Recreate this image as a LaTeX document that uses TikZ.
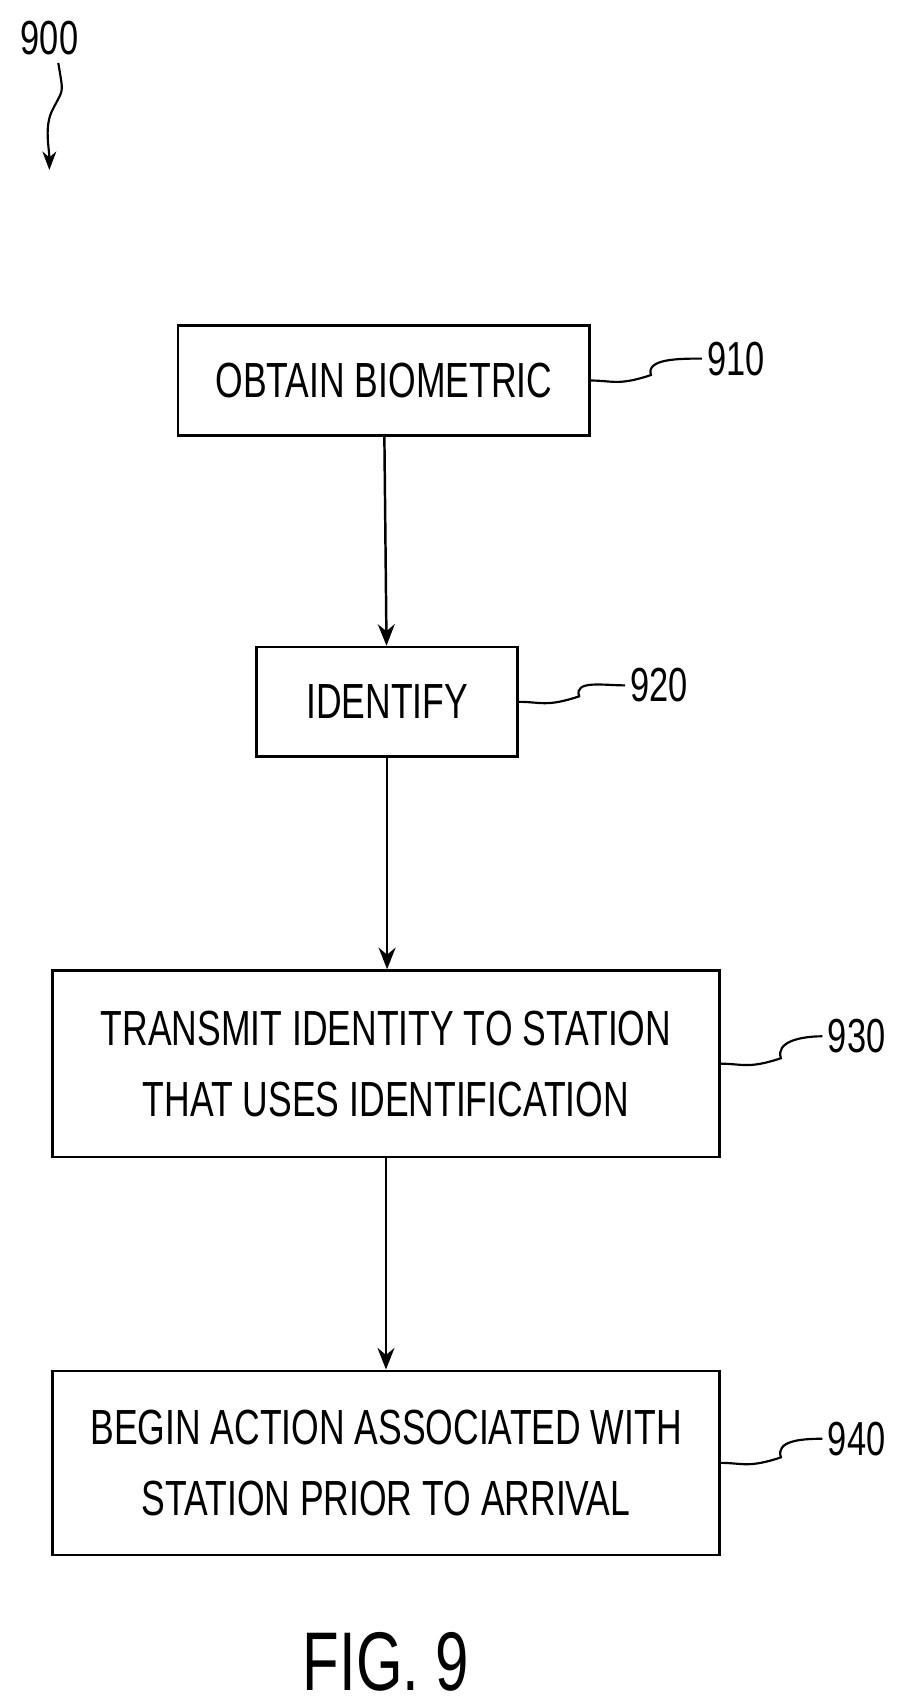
\documentclass[tikz,border=0pt]{standalone}
\usepackage{fontspec}
\setmainfont{Liberation Sans}[FakeStretch=0.72]
\usetikzlibrary{positioning,arrows.meta}
\tikzset{
  stage/.style={draw, line width=1.6pt, align=center, font=\fontsize{32}{46}\selectfont, inner sep=0pt},
  ref/.style={font=\fontsize{31}{36}\selectfont, anchor=west},
  flow/.style={-{Stealth[length=14pt,width=11pt]}, line width=1.6pt},
  lead/.style={line width=1.4pt}
}
\begin{document}
\begin{tikzpicture}[x=0.25mm,y=-0.25mm]
  \useasboundingbox (0,0) rectangle (830,1553);
  \node[stage, minimum width=93.75mm, minimum height=25mm] (obtain) at (350,347) {OBTAIN BIOMETRIC};
  \node[stage, minimum width=59.5mm, minimum height=25mm] (ident) at (353,640) {IDENTIFY};
  \node[stage, minimum width=152mm, minimum height=42.5mm] (trans) at (352,970) {TRANSMIT IDENTITY TO STATION\\THAT USES IDENTIFICATION};
  \node[stage, minimum width=152mm, minimum height=42mm] (begin) at (352,1334) {BEGIN ACTION ASSOCIATED WITH\\STATION PRIOR TO ARRIVAL};

  \node[ref] (l900) at (14,35) {900};
  \node[ref] (l910) at (640,327) {910};
  \node[ref] (l920) at (570,625) {920};
  \node[ref] (l930) at (750,945) {930};
  \node[ref] (l940) at (750,1312) {940};
  \node[font=\fontsize{54}{58}\selectfont] (fig) at (352,1515) {FIG. 9};
  \coordinate (tip) at (45,155);

  % flow
  \draw[flow] (obtain) -- (ident);
  \draw[flow] (ident.south) -- (ident.south |- trans.north);
  \draw[flow] (trans.south) -- (trans.south |- begin.north);

  % leaders
  \draw[lead] (obtain.east) .. controls +(20,0) and +(-30,10) .. +(55,-5) .. controls +(-5,-15) and +(-20,0) .. (l910.west);
  \draw[lead] (ident.east) .. controls +(20,0) and +(-30,10) .. +(55,-5) .. controls +(-5,-15) and +(-20,0) .. (l920.west);
  \draw[lead] (trans.east) .. controls +(20,0) and +(-30,10) .. +(55,-5) .. controls +(-5,-15) and +(-20,0) .. (l930.west);
  \draw[lead] (begin.east) .. controls +(20,0) and +(-30,10) .. +(55,-5) .. controls +(-5,-15) and +(-20,0) .. (l940.west);
  \draw[lead, -{Stealth[length=12pt,width=9pt]}] (l900.south) ++(8,2) .. controls +(5,30) and +(10,-20) .. (48,100) .. controls +(-8,15) and +(0,-20) .. (tip);
\end{tikzpicture}
\end{document}
